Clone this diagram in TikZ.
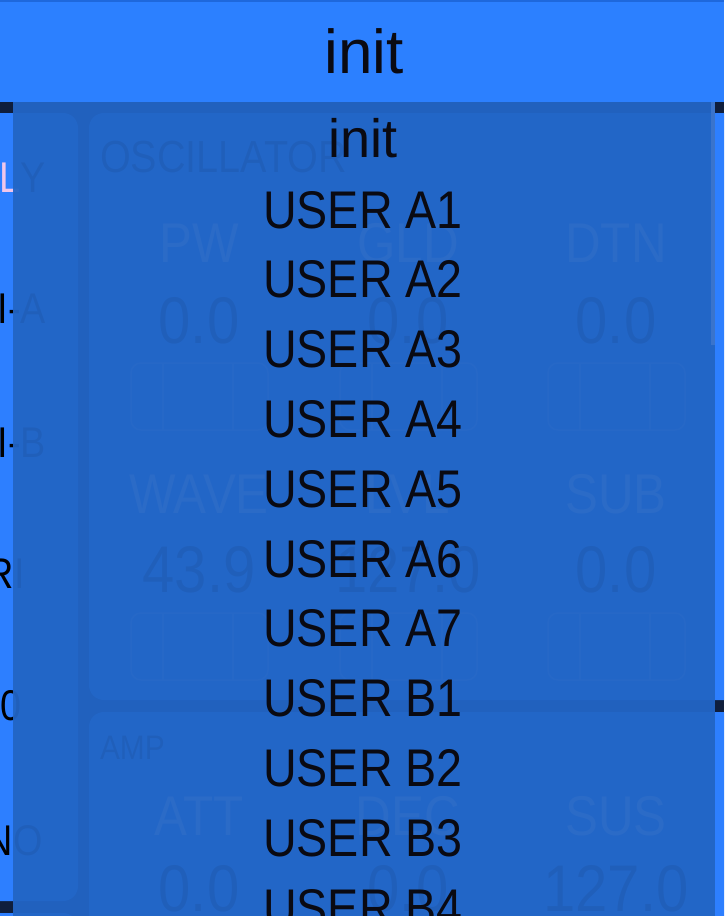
\documentclass[tikz,border=0pt]{standalone}
\usepackage{fontspec}
\setmainfont{Liberation Sans}
\newfontfamily\cond[FakeStretch=0.88]{Liberation Sans}
\definecolor{navy}{HTML}{0F1E3C}
\definecolor{panelblue}{HTML}{2D7FFF}
\definecolor{headerblue}{HTML}{2C80FF}
\definecolor{headerline}{HTML}{1E68DC}
\definecolor{overlayblue}{RGB}{34,101,197}
\definecolor{pinktext}{HTML}{F0C6EA}
\definecolor{labeltext}{HTML}{D8E2F8}
\definecolor{slideredge}{HTML}{7FAAF8}
\definecolor{scrollthumb}{HTML}{3A74CC}
\definecolor{itemtext}{HTML}{0A0A12}
\tikzset{
  txt/.style={inner sep=0pt, outer sep=0pt, anchor=base},
  lefttxt/.style={inner sep=0pt, outer sep=0pt, anchor=base west, font=\cond\fontsize{43}{50}\selectfont, text=black},
  item/.style={txt, font=\cond\fontsize{53}{60}\selectfont, text=itemtext},
  uilabel/.style={txt, font=\cond\fontsize{56}{64}\selectfont, text=labeltext},
  uivalue/.style={txt, font=\cond\fontsize{66}{74}\selectfont, text=black},
  uititle/.style={inner sep=0pt, outer sep=0pt, anchor=base west, font=\cond\fontsize{45}{52}\selectfont, text=black},
  panel/.style={fill=panelblue, rounded corners=15pt},
  slider/.style={draw=slideredge, line width=1.5pt, rounded corners=10pt},
}
\begin{document}
\begin{tikzpicture}[x=1pt,y=-1pt]
\useasboundingbox (0,0) rectangle (724,916);
\begin{scope}
\clip (0,0) rectangle (724,916);
% ---------- underlying screen ----------
\fill[navy] (0,0) rectangle (724,916);
\fill[panel] (-40,113) rectangle (78,901);
\fill[panel] (-40,913) rectangle (78,990);
\fill[panel] (89,113) rectangle (770,700);
\fill[panel] (89,712) rectangle (770,990);
% left panel texts
\node[lefttxt] (lp1) at (-1,192) {\textcolor{pinktext}{L}Y};
\node[lefttxt] (lp2) at (-2.5,323) {I-A};
\node[lefttxt] (lp3) at (-2.5,457) {I-B};
\node[lefttxt] (lp4) at (-13,588) {RI};
\node[lefttxt] (lp5) at (1,720) {0};
\node[lefttxt] (lp6) at (-14,855) {NO};
% oscillator panel
\node[uititle] (osc) at (100,172) {OSCILLATOR};
\node[uilabel] (pw)  at (199,262) {PW};
\node[uilabel] (gld) at (408,262) {GLD};
\node[uilabel] (dtn) at (616,262) {DTN};
\node[uivalue] (v1) at (199,343) {0.0};
\node[uivalue] (v2) at (408,343) {0.0};
\node[uivalue] (v3) at (616,343) {0.0};
\node[uilabel] (wave) at (199,513) {WAVE};
\node[uilabel] (lvl)  at (408,513) {LVL};
\node[uilabel] (sub)  at (616,513) {SUB};
\node[uivalue] (v4) at (199,592) {43.9};
\node[uivalue] (v5) at (408,592) {127.0};
\node[uivalue] (v6) at (616,592) {0.0};
\foreach \cx in {199,408,616}{
  \foreach \sy in {363,613}{
    \draw[slider] (\cx-68,\sy) rectangle (\cx+69,\sy+67);
    \draw[slideredge, line width=1.5pt] (\cx-36,\sy) -- (\cx-36,\sy+67);
    \draw[slideredge, line width=1.5pt] (\cx+34,\sy) -- (\cx+34,\sy+67);
  }
}
% amp panel
\node[uititle, font=\cond\fontsize{34}{40}\selectfont] (amp) at (100,759) {AMP};
\node[uilabel] (att) at (199,835) {ATT};
\node[uilabel] (dec) at (408,835) {DEC};
\node[uilabel] (sus) at (616,835) {SUS};
\node[uivalue] (v7) at (199,911) {0.0};
\node[uivalue] (v8) at (408,911) {0.0};
\node[uivalue] (v9) at (616,911) {127.0};
% ---------- dropdown overlay ----------
\fill[overlayblue, opacity=0.95] (13,101) rectangle (715,916);
\fill[scrollthumb] (711,102) rectangle (715,345);
% header
\fill[headerblue] (0,0) rectangle (724,101.5);
\draw[headerline, line width=1.5pt] (0,0.75) -- (724,0.75);
\node[txt, font=\fontsize{62}{70}\selectfont, text=itemtext] (hdr) at (364,73) {init};
% list items
\node[txt, font=\fontsize{54}{60}\selectfont, text=itemtext] (i0) at (363,157) {init};
\foreach \lab [count=\k] in {USER A1,USER A2,USER A3,USER A4,USER A5,USER A6,USER A7,USER B1,USER B2,USER B3,USER B4}{
  \node[item] (i\k) at (363,{228+69.8*(\k-1)}) {\lab};
}
\end{scope}
\end{tikzpicture}
\end{document}
